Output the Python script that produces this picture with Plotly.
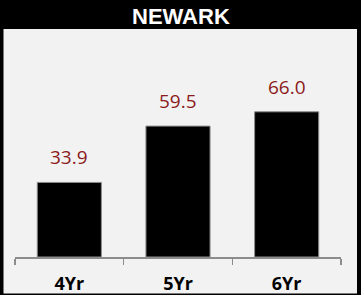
import plotly.graph_objects as go

categories = ["4Yr", "5Yr", "6Yr"]
values = [33.9, 59.5, 66.0]
value_labels = ["33.9", "59.5", "66.0"]
title_text = "NEWARK"

W, H = 361, 295
L, R, T, B = 15, 20, 37, 38
pw, ph = W - L - R, H - T - B

def px_x(p):
    return (p - L) / pw

def px_y(p):
    return (H - B - p) / ph

fig = go.Figure()
fig.add_trace(go.Bar(
    x=categories, y=values,
    marker=dict(color="black", line=dict(color="#8c8c8c", width=1)),
    hoverinfo="skip",
))

for c, v, t in zip(categories, values, value_labels):
    fig.add_annotation(x=c, y=v, text=t, showarrow=False, yanchor="bottom",
                       yshift=10, font=dict(family="Open Sans", size=19, color="#8b1a1a"))

fig.add_annotation(xref="paper", yref="paper", x=px_x(181), y=px_y(16),
                   text="<b>" + title_text + "</b>", showarrow=False,
                   xanchor="center", yanchor="middle",
                   font=dict(family="Liberation Sans", size=22, color="white"))

fig.add_shape(type="rect", xref="paper", yref="paper", layer="below",
              x0=px_x(3.5), x1=px_x(357), y0=px_y(29), y1=px_y(293.5),
              fillcolor="#f2f2f2", line=dict(width=0))

fig.update_layout(
    width=W, height=H, autosize=False,
    margin=dict(l=L, r=R, t=T, b=B, pad=0, autoexpand=False),
    paper_bgcolor="black", plot_bgcolor="#f2f2f2",
    bargap=0.41, showlegend=False,
    xaxis=dict(type="category", range=[-0.5, 2.5], showline=True, linecolor="#8c8c8c",
               linewidth=1.5, ticks="outside", tickson="boundaries", ticklen=6,
               tickcolor="#8c8c8c", tickwidth=1.5, showgrid=False, zeroline=False,
               automargin=False,
               tickfont=dict(family="Open Sans", size=18, color="black", weight="bold"),
               ticklabelstandoff=10),
    yaxis=dict(range=[0, 100], visible=False, showgrid=False, zeroline=False,
               automargin=False),
)

fig.write_html("out.html",
               config=dict(displayModeBar=False, responsive=False, staticPlot=True),
               post_script="document.body.style.margin='0';document.body.style.overflow='hidden';document.body.style.background='black';")
